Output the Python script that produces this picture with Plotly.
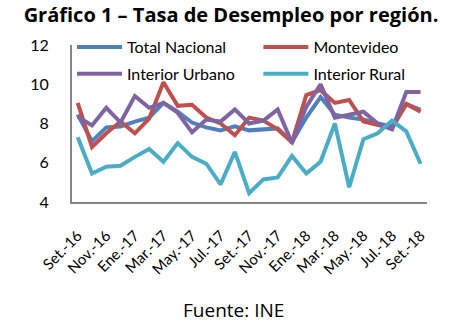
import plotly.graph_objects as go

months = ["Set.-16", "Oct.-16", "Nov.-16", "Dic.-16", "Ene.-17", "Feb.-17", "Mar.-17",
          "Abr.-17", "May.-17", "Jun.-17", "Jul.-17", "Ago.-17", "Set.-17", "Oct.-17",
          "Nov.-17", "Dic.-17", "Ene.-18", "Feb.-18", "Mar.-18", "Abr.-18", "May.-18",
          "Jun.-18", "Jul.-18", "Ago.-18", "Set.-18"]

total_nacional = [8.45, 7.1, 7.8, 7.85, 8.1, 8.3, 9.05, 8.6, 8.05, 7.8, 7.65, 7.85, 7.65,
                  7.7, 7.75, 7.05, 8.3, 9.35, 8.45, 8.3, 8.2, 8.0, 7.85, 9.0, 8.7]
montevideo = [9.05, 6.8, 7.5, 8.1, 7.5, 8.25, 10.1, 8.9, 8.95, 8.3, 8.0, 7.4, 8.3,
              8.15, 7.7, 7.05, 9.45, 9.7, 9.05, 9.2, 8.1, 7.95, 7.75, 9.0, 8.6]
interior_urbano = [8.35, 7.9, 8.8, 8.05, 9.4, 8.8, 9.05, 8.55, 7.55, 8.2, 8.1, 8.72, 8.0,
                   8.15, 8.72, 7.0, 8.85, 10.0, 8.3, 8.45, 8.6, 8.0, 7.7, 9.6, 9.6]
interior_rural = [7.3, 5.45, 5.8, 5.85, 6.3, 6.7, 6.05, 7.0, 6.3, 5.95, 4.9, 6.55, 4.45,
                  5.15, 5.25, 6.35, 5.45, 6.05, 8.0, 4.75, 7.2, 7.5, 8.15, 7.6, 5.95]

yticks = [4, 6, 8, 10, 12]
xticks = months[::2]

# name, values, colour, legend column
series = [
    ("Total Nacional", total_nacional, "#4F81BD", "legend"),
    ("Montevideo", montevideo, "#C0504D", "legend2"),
    ("Interior Urbano", interior_urbano, "#8064A2", "legend"),
    ("Interior Rural", interior_rural, "#4BACC6", "legend2"),
]

FONT = "Lato, 'Open Sans', sans-serif"
WIDE = "'Open Sans', Lato, sans-serif"

fig = go.Figure()
for name, values, color, leg in series:
    fig.add_trace(go.Scatter(
        x=months, y=values, name=name, mode="lines",
        line=dict(color=color, width=4),
        legend=leg, legendgroup=name,
    ))

legend_style = dict(
    orientation="v", yanchor="top", xanchor="left",
    itemwidth=45, traceorder="grouped", tracegroupgap=3,
    font=dict(family=FONT, size=16, color="#000000"),
    bgcolor="rgba(0,0,0,0)",
)

fig.update_layout(
    width=462, height=324,
    margin=dict(l=72, r=35, t=45, b=122),
    paper_bgcolor="white", plot_bgcolor="white",
    font=dict(family=FONT, color="#000000", size=14),
    showlegend=True,
    legend=dict(x=0.0, y=1.095, **legend_style),
    legend2=dict(x=0.525, y=1.095, **legend_style),
    title=dict(
        text="<b>Gráfico 1 – Tasa de Desempleo por región.</b>",
        x=0.5, xanchor="center", xref="container", y=0.955, yanchor="middle",
        font=dict(family=WIDE, size=20, color="#000000"),
    ),
)

fig.update_xaxes(
    type="category", categoryorder="array", categoryarray=months,
    range=[-0.4, 24.45],
    tickmode="array", tickvals=xticks, ticktext=xticks, tickangle=-45,
    showline=True, linecolor="#868686", linewidth=2,
    showgrid=False, zeroline=False, ticks="",
    ticklabelstandoff=17,
    tickfont=dict(family=FONT, size=15, color="#000000"),
)
fig.update_yaxes(
    range=[4, 12], tickmode="array", tickvals=yticks,
    showline=True, linecolor="#868686", linewidth=2,
    showgrid=False, zeroline=False, ticks="",
    ticklabelstandoff=18,
    tickfont=dict(family=FONT, size=16, color="#000000"),
)

fig.add_annotation(
    text="Fuente: INE", xref="paper", yref="paper", x=0.455, y=-0.685,
    xanchor="center", yanchor="middle", showarrow=False,
    font=dict(family=WIDE, size=19, color="#000000"),
)

fig.write_html("out.html")
